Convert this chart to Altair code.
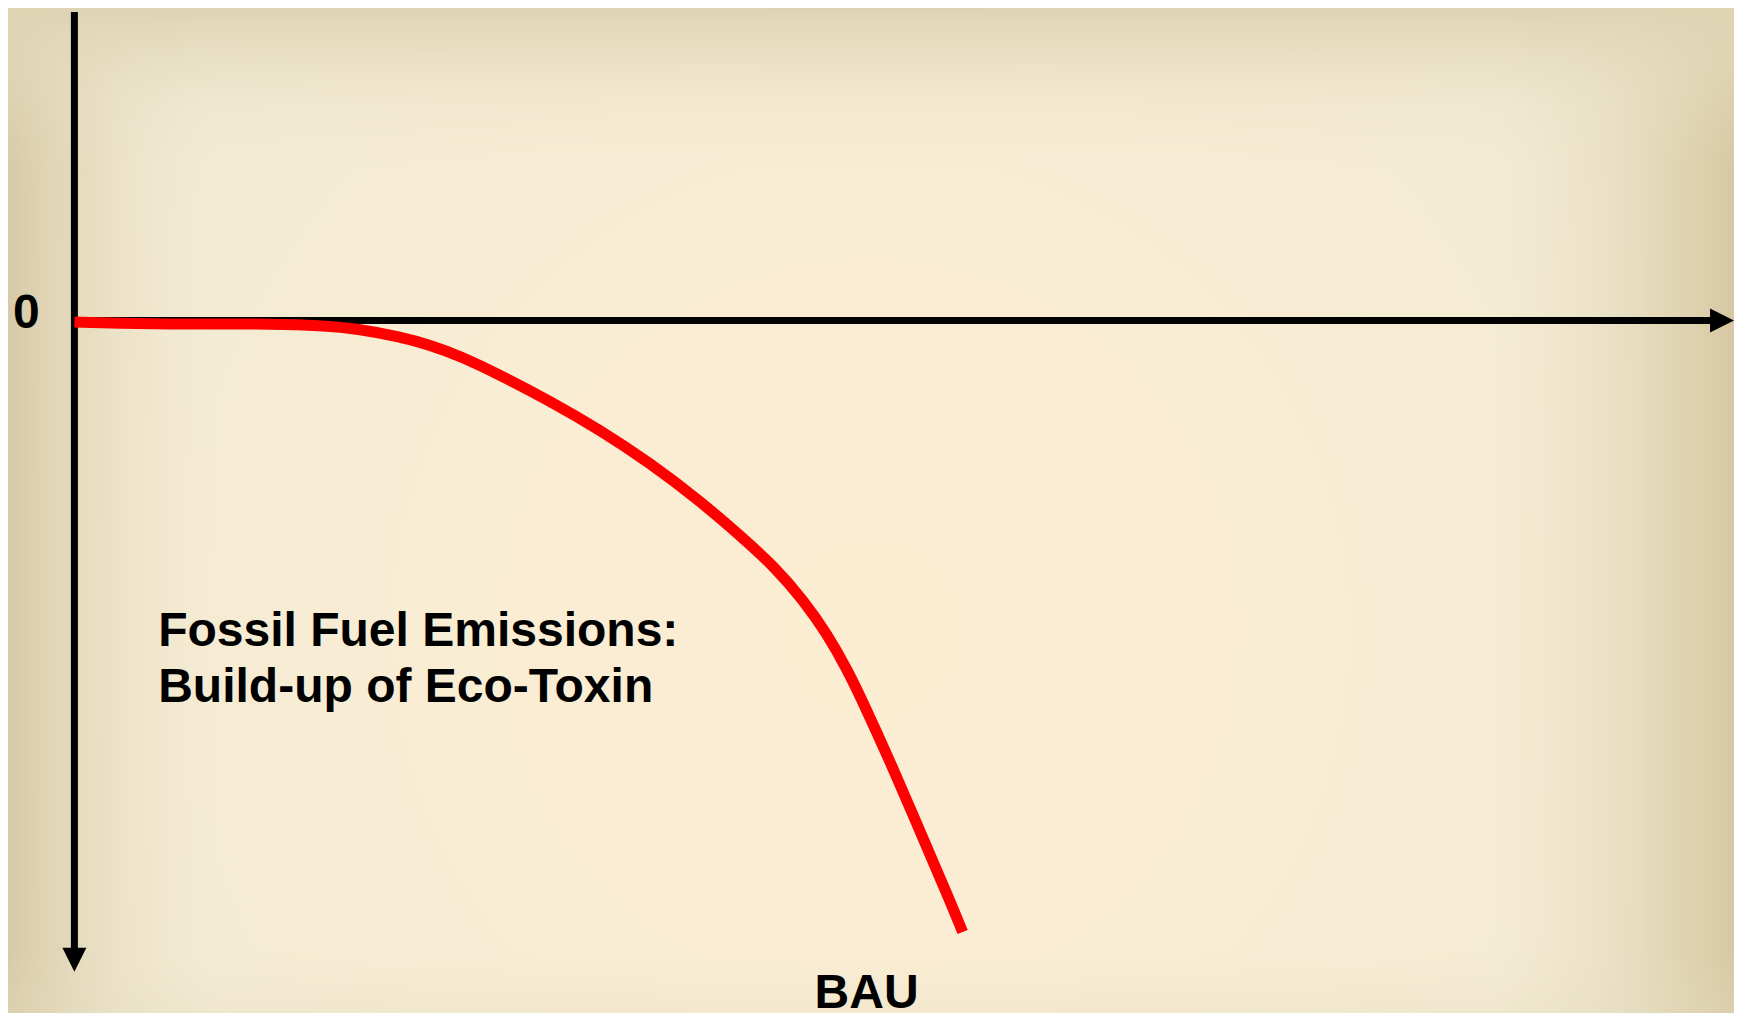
import altair as alt
import pandas as pd

# ---- data (chart units: x = time 0..100, y = level, 0 at the horizontal axis) ----
curve_x = [0.0, 2.75, 5.76, 8.77, 11.79, 14.80, 17.21, 19.62, 21.43, 23.23, 25.64,
           28.65, 31.67, 34.68, 37.70, 40.15, 42.20, 43.92, 45.32, 46.58, 47.37,
           49.17, 50.97, 52.76, 53.52]
curve_y = [-0.23, -0.46, -0.54, -0.54, -0.54, -0.77, -1.31, -2.53, -3.76, -5.45, -8.37,
           -12.37, -16.82, -21.89, -27.73, -33.10, -37.86, -42.94, -48.00, -53.69, -57.83,
           -67.82, -78.57, -89.17, -93.93]

label_text = ["0", "Fossil Fuel Emissions:", "Build-up of Eco-Toxin", "BAU"]
label_x = [-3.70, 5.05, 5.05, 44.60]
label_y = [-1.15, -50.0, -58.6, -105.6]

# axis lines: vertical axis (x=0) and horizontal axis (y=0)
vaxis = pd.DataFrame({"x": [0.0], "y": [47.4], "y2": [-97.0]})
haxis = pd.DataFrame({"y": [0.0], "x": [0.0], "x2": [99.0]})
arrow_right = pd.DataFrame({"x": [99.28], "y": [0.0]})
arrow_down = pd.DataFrame({"x": [0.0], "y": [-98.2]})

X_DOM = [-4, 100]
Y_DOM = [-106.37, 48.0]

W, H = 1726, 1005

xs = alt.Scale(domain=X_DOM, nice=False, zero=False)
ys = alt.Scale(domain=Y_DOM, nice=False, zero=False)

one = pd.DataFrame({"k": [0]})

def bg(grad):
    return alt.Chart(one).mark_rect(fill=grad, strokeWidth=0).encode(
        x=alt.value(0), x2=alt.value("width"), y=alt.value(0), y2=alt.value("height")
    )

radial = alt.RadialGradient(
    gradient="radial", x1=0.5, y1=0.57, r1=0, x2=0.5, y2=0.57, r2=0.55,
    stops=[alt.GradientStop(color="#FCEDD2", offset=0),
           alt.GradientStop(color="#F9EDD4", offset=0.45),
           alt.GradientStop(color="#F1EAD3", offset=1)])

horiz = alt.LinearGradient(
    gradient="linear", x1=0, y1=0, x2=1, y2=0,
    stops=[alt.GradientStop(color="rgba(215,202,167,1)", offset=0),
           alt.GradientStop(color="rgba(220,208,174,0.75)", offset=0.03),
           alt.GradientStop(color="rgba(226,216,186,0.35)", offset=0.07),
           alt.GradientStop(color="rgba(230,222,195,0)", offset=0.12),
           alt.GradientStop(color="rgba(230,222,195,0)", offset=0.86),
           alt.GradientStop(color="rgba(226,216,186,0.45)", offset=0.92),
           alt.GradientStop(color="rgba(220,208,172,0.8)", offset=0.965),
           alt.GradientStop(color="rgba(214,200,163,1)", offset=1)])

vert = alt.LinearGradient(
    gradient="linear", x1=0, y1=0, x2=0, y2=1,
    stops=[alt.GradientStop(color="rgba(222,212,180,1)", offset=0),
           alt.GradientStop(color="rgba(226,217,187,0.7)", offset=0.04),
           alt.GradientStop(color="rgba(232,224,197,0.25)", offset=0.1),
           alt.GradientStop(color="rgba(232,224,197,0)", offset=0.16),
           alt.GradientStop(color="rgba(232,224,197,0)", offset=0.94),
           alt.GradientStop(color="rgba(228,220,192,0.3)", offset=1)])

curve = pd.DataFrame({"x": curve_x, "y": curve_y})
labels = pd.DataFrame({"x": label_x, "y": label_y, "t": label_text})

v_rule = alt.Chart(vaxis).mark_rule(color="black", strokeWidth=7, strokeCap="butt").encode(
    x=alt.X("x:Q", scale=xs, axis=None),
    y=alt.Y("y:Q", scale=ys, axis=None),
    y2="y2:Q",
)
h_rule = alt.Chart(haxis).mark_rule(color="black", strokeWidth=7, strokeCap="butt").encode(
    x=alt.X("x:Q", scale=xs, axis=None),
    x2="x2:Q",
    y=alt.Y("y:Q", scale=ys, axis=None),
)
head_r = alt.Chart(arrow_right).mark_point(
    shape="M-1,-1L1,0L-1,1Z", filled=True, fill="black", strokeWidth=0, opacity=1, size=576
).encode(x=alt.X("x:Q", scale=xs, axis=None), y=alt.Y("y:Q", scale=ys, axis=None))
head_d = alt.Chart(arrow_down).mark_point(
    shape="M-1,-1L1,-1L0,1Z", filled=True, fill="black", strokeWidth=0, opacity=1, size=576
).encode(x=alt.X("x:Q", scale=xs, axis=None), y=alt.Y("y:Q", scale=ys, axis=None))

line = alt.Chart(curve).mark_line(
    color="#FF0000", strokeWidth=11, interpolate="basis", strokeCap="butt"
).encode(
    x=alt.X("x:Q", scale=xs, axis=None),
    y=alt.Y("y:Q", scale=ys, axis=None),
    order="x:Q",
)

text = alt.Chart(labels).mark_text(
    font="Liberation Sans", fontWeight="bold", fontSize=48, align="left",
    baseline="alphabetic", color="black"
).encode(
    x=alt.X("x:Q", scale=xs, axis=None),
    y=alt.Y("y:Q", scale=ys, axis=None),
    text="t:N",
)

chart = alt.layer(
    bg(radial), bg(horiz), bg(vert), v_rule, h_rule, head_r, head_d, line, text
).properties(
    width=W, height=H, padding=0,
    autosize=alt.AutoSizeParams(type="none"),
    background="#E8DFC4",
).configure_view(strokeWidth=0)

chart.save("out.html", embed_options={"renderer": "svg", "actions": False})
